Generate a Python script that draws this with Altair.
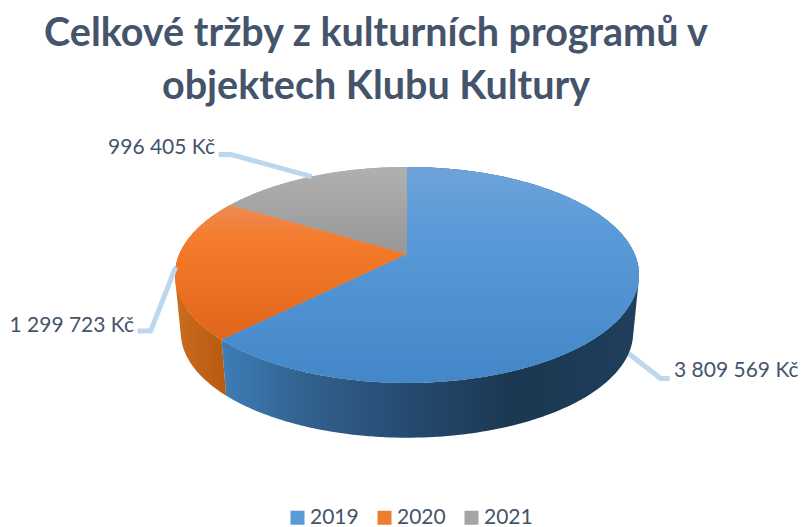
import math
import altair as alt

years = ["2019", "2020", "2021"]
revenues = [3809569, 1299723, 996405]
value_labels = ["3 809 569 Kč", "1 299 723 Kč", "996 405 Kč"]
legend_colors = ["#5b9bd5", "#ed7d31", "#a5a5a5"]
TEXT = "#44546a"
LEADER = "#bdd7ee"
FONT = "Lato"

# Viewing geometry of the tilted disc (pixels)
CX, CY = 399, 142      # slice apex in plot coordinates
F, G, K = 227.6, 103.9, 0.194
DEPTH, SHRINK = 58, 0.975


def rim(theta, lower=False):
    X, Y = math.sin(theta), math.cos(theta)
    w = 1 + K * Y
    px, py = F * X / w, -G * Y / w
    if lower:
        return [px * SHRINK, py * SHRINK + DEPTH]
    return [px, py]


def arc(a, b, lower=False):
    n = max(2, int(abs(b - a) / 0.01))
    return [rim(a + (b - a) * i / n, lower) for i in range(n + 1)]


def wall_quads(a, b):
    """Side wall as overlapping quads of one winding, so its silhouette is straight."""
    n = max(2, int(abs(b - a) / 0.02))
    polys = []
    for i in range(n):
        t0 = a + (b - a) * i / n
        t1 = a + (b - a) * min(n, i + 1.3) / n
        ring = [rim(t0), rim(t1), rim(t1, True), rim(t0, True)]
        area = sum(
            ring[j][0] * ring[(j + 1) % 4][1] - ring[(j + 1) % 4][0] * ring[j][1]
            for j in range(4)
        )
        if area < 0:
            ring = ring[::-1]
        polys.append([ring + [ring[0]]])
    return polys


total = sum(revenues)
edges = [0.0]
for v in revenues:
    edges.append(edges[-1] + v / total * 2 * math.pi)


def feature(kind, coords, i):
    return {
        "type": "Feature",
        "properties": {"year": years[i]},
        "geometry": {"type": kind, "coordinates": coords},
    }


top_faces, walls = [], []
for i in range(3):
    a, b = edges[i], edges[i + 1]
    top_faces.append(feature("Polygon", [[[0, 0]] + arc(a, b) + [[0, 0]]], i))
    walls.append(feature("MultiPolygon", wall_quads(a, b), i))


def grad(stops, vertical=True):
    return alt.LinearGradient(
        gradient="linear",
        stops=[alt.GradientStop(color=c, offset=o) for o, c in stops],
        x1=0, y1=0, x2=0 if vertical else 1, y2=1 if vertical else 0,
    )


top_fills = [
    grad([(0, "#6ea3d9"), (0.3, "#5a9ad8"), (1, "#4387c8")]),
    grad([(0, "#ee8a55"), (0.25, "#f47c2c"), (1, "#e1651a")]),
    grad([(0, "#b0b0b0"), (1, "#979797")]),
]
wall_fills = [
    grad([(0, "#3e7db9"), (0.19, "#33628f"), (0.43, "#264c72"), (0.7, "#1b3751"), (1, "#1f3f5b")], False),
    grad([(0, "#c96d1f"), (1, "#b5560f")], False),
]

projection = dict(type="identity", scale=1, translate=[CX, CY])

layers = []


def shape(features, **mark):
    return alt.Chart(alt.Data(values=features)).mark_geoshape(**mark).project(**projection)


# Leader lines: anchored on the rim at each slice's middle angle
mids = [(edges[i] + edges[i + 1]) / 2 for i in range(3)]
start19 = rim(mids[0], True)
knee19 = [start19[0] + 32, start19[1] + 25]
end19 = [knee19[0] + 9, knee19[1]]
leader19 = feature("LineString", [start19, knee19, end19], 0)
start20 = rim(mids[1])
knee20 = [start20[0] - 25, start20[1] + 64]
end20 = [knee20[0] - 13, knee20[1]]
leader20 = feature("LineString", [start20, knee20, end20], 1)
start21 = rim(mids[2])
knee21 = [start21[0] - 80, start21[1] - 22]
end21 = [knee21[0] - 13, knee21[1]]
leader21 = feature("LineString", [start21, knee21, end21], 2)

leader_mark = dict(filled=False, stroke=LEADER, strokeWidth=5, strokeJoin="round")
layers.append(shape([leader19], **leader_mark))

for i in range(2):
    layers.append(shape([walls[i]], fill=wall_fills[i], strokeWidth=0))

legend = alt.Legend(
    title=None, orient="none", legendX=279, legendY=395, direction="horizontal",
    columns=3, columnPadding=15, symbolType="square", symbolSize=196, symbolStrokeWidth=0,
    labelFont=FONT, labelFontSize=21, labelColor=TEXT, labelOffset=2, padding=0,
)
layers.append(
    shape(top_faces, strokeWidth=0).encode(
        color=alt.Color(
            "properties.year:N",
            scale=alt.Scale(domain=years, range=legend_colors),
            legend=legend,
        )
    )
)
for i in range(3):
    layers.append(shape([top_faces[i]], fill=top_fills[i], strokeWidth=0))

layers.append(shape([leader20, leader21], **leader_mark))

# Data labels
label_spots = [(666, 259, "left"), (126, 214, "right"), (207, 36, "right")]
for text, (x, y, al) in zip(value_labels, label_spots):
    layers.append(
        alt.Chart(alt.Data(values=[{"label": text}]))
        .mark_text(font=FONT, fontSize=21, color=TEXT, align=al, baseline="middle")
        .encode(text="label:N", x=alt.value(x), y=alt.value(y))
    )

chart = (
    alt.layer(*layers)
    .properties(
        width=790,
        height=415,
        padding={"top": 104, "left": 0, "right": 0, "bottom": 0},
        autosize=alt.AutoSizeParams(type="none"),
        title=alt.TitleParams(
            text=["Celkové tržby z kulturních programů v", "objektech Klubu Kultury"],
            font=FONT, fontSize=39.5, fontWeight="bold", color=TEXT,
            anchor="middle", dx=-27, offset=5, lineHeight=53,
        ),
        background="white",
    )
    .configure_view(stroke=None)
)

chart.save("out.html", embed_options={"renderer": "svg", "actions": False})
